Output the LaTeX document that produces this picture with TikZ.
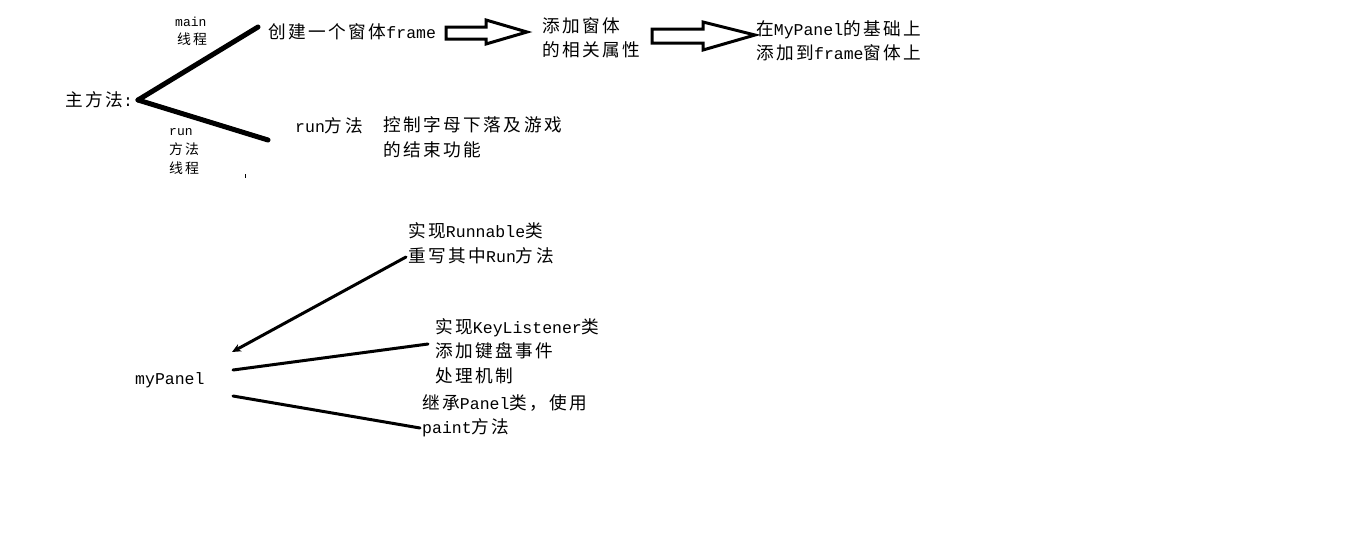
\documentclass[tikz,border=0pt]{standalone}
\usepackage{fontspec}
\setmainfont{Liberation Mono}
\newfontfamily\cjkfont[Scale=1.07,LetterSpace=14]{Noto Sans CJK SC}
\newcommand{\zh}[1]{{\cjkfont #1}}
\usetikzlibrary{arrows.meta}
\begin{document}
\begin{tikzpicture}[x=1pt,y=-1pt,
  txt/.style={font=\fontsize{16.5}{24.5}\selectfont, inner sep=0pt, anchor=west, align=left},
  lbl/.style={font=\fontsize{13}{19}\selectfont, inner sep=0pt, anchor=west, align=left},
  thick5/.style={line width=5pt, line cap=round},
  thin3/.style={line width=3pt, line cap=round},
  hollow/.style={line width=3pt, line join=miter, fill=white, draw=black}]
\useasboundingbox[fill=white] (0,0) rectangle (1360,544);
% top-left
\node[txt] (zhu) at (65,100) {\zh{主方法}:};
\coordinate (v) at (138,100);
\coordinate (vt) at (258,27);
\coordinate (vb) at (268,140);
\draw[thick5] (v) -- (vt);
\draw[thick5] (v) -- (vb);
\node[lbl] (mainlbl) at (175,31) {main\\[-1pt]\hspace{2pt}\zh{线程}};
\node[lbl] (runlbl) at (169,152) {run\\\zh{方法}\\\zh{线程}};
\draw[line width=1pt] (245,174) -- (245,178);
\node[txt] (frame) at (268,32) {\zh{创建一个窗体}frame};
\node[txt] (runm) at (295,126) {run\zh{方法}};
\node[txt] (ctrl) at (383,137) {\zh{控制字母下落及游戏}\\\zh{的结束功能}};
% hollow arrows
\draw[hollow] (446,27) -- (486,27) -- (486,20) -- (527,32) -- (486,44) -- (486,39) -- (446,39) -- cycle;
\node[txt] (attr) at (542,38) {\zh{添加窗体}\\\zh{的相关属性}};
\draw[hollow] (652,29) -- (703,29) -- (703,22) -- (755,35) -- (703,50) -- (703,43) -- (652,43) -- cycle;
\node[txt] (add) at (756,41) {\zh{在}MyPanel\zh{的基础上}\\\zh{添加到}frame\zh{窗体上}};
% bottom
\node[txt] (mp) at (135,380) {myPanel};
\coordinate (a1) at (406,257);
\coordinate (a0) at (232,352);
\coordinate (b0) at (233,370);
\coordinate (b1) at (428,344);
\coordinate (c0) at (233,396);
\coordinate (c1) at (420,428);
\draw[thin3, -{Stealth[length=9pt,width=8pt]}] (a1) -- (a0);
\draw[thin3] (b0) -- (b1);
\draw[thin3] (c0) -- (c1);
\node[txt] (run1) at (408,243) {\zh{实现}Runnable\zh{类}\\\zh{重写其中}Run\zh{方法}};
\node[txt] (key) at (435,351) {\zh{实现}KeyListener\zh{类}\\\zh{添加键盘事件}\\\zh{处理机制}};
\node[txt] (pan) at (422,416) {\zh{继承}Panel\zh{类，使用}\\paint\zh{方法}};
\end{tikzpicture}
\end{document}
